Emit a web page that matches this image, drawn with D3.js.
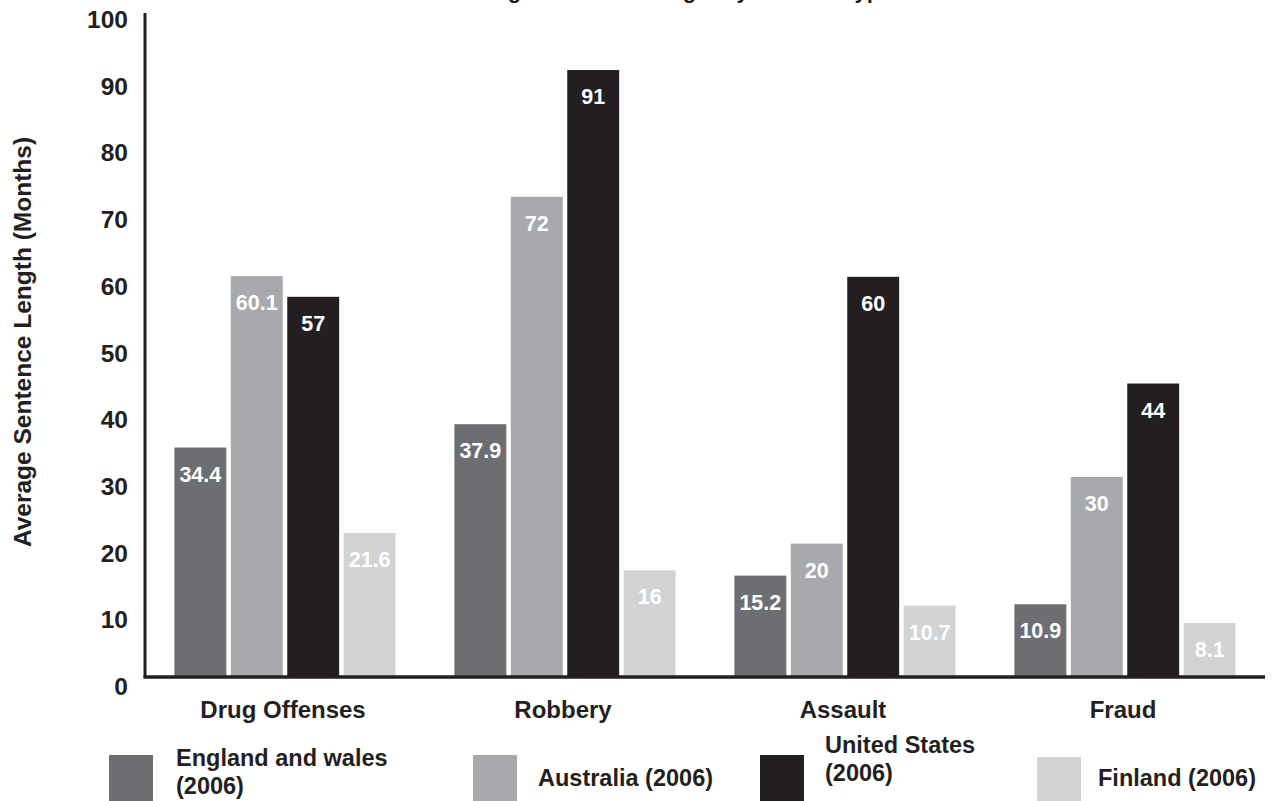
<!DOCTYPE html>
<html>
<head>
<meta charset="utf-8">
<script src="https://cdn.jsdelivr.net/npm/d3@7"></script>
<style>
  html, body { margin: 0; padding: 0; background: #ffffff; }
  svg { display: block; }
  text { font-family: "Liberation Sans", Arial, Helvetica, sans-serif; font-weight: bold; fill: #231f20; }
</style>
</head>
<body>
<svg id="chart" width="1279" height="801"></svg>
<script>
// ---- Data ----
const categories = ["Drug Offenses", "Robbery", "Assault", "Fraud"];
const seriesNames = ["England and wales (2006)", "Australia (2006)", "United States (2006)", "Finland (2006)"];
const englandWales = [34.4, 37.9, 15.2, 10.9];
const australia = [60.1, 72, 20, 30];
const unitedStates = [57, 91, 60, 44];
const finland = [21.6, 16, 10.7, 8.1];
const yTicks = [0, 10, 20, 30, 40, 50, 60, 70, 80, 90, 100];
const legendLines = [["England and wales", "(2006)"], ["Australia (2006)"], ["United States", "(2006)"], ["Finland (2006)"]];
const titleText = "Average Sentence Length by Offense Type";
const yTitle = "Average Sentence Length (Months)";

const seriesValues = [englandWales, australia, unitedStates, finland];
const colors = ["#6d6e71", "#a7a9ac", "#231f20", "#d1d3d4"];

// ---- Layout ----
const svg = d3.select("#chart");
const x0 = d3.scaleBand().domain(categories).range([145, 1265]).paddingInner(0.21).paddingOuter(0.105);
const x1 = d3.scaleBand().domain(d3.range(seriesNames.length)).range([0, x0.bandwidth()]).paddingInner(0.08).paddingOuter(0);
const y = d3.scaleLinear().domain([0, 100]).range([677, 10]);

// Title (cut off at the top in the reference)
svg.append("text").attr("x", 670).attr("y", -2).attr("text-anchor", "middle")
  .style("font-size", "22px").text(titleText);

// Bars
const groups = svg.append("g").selectAll("g").data(categories).join("g")
  .attr("transform", d => `translate(${x0(d)},0)`);

groups.each(function(cat, ci) {
  const g = d3.select(this);
  const rows = seriesValues.map((vals, si) => ({ si, v: vals[ci] }));
  g.selectAll("rect").data(rows).join("rect")
    .attr("x", d => x1(d.si))
    .attr("width", x1.bandwidth())
    .attr("y", d => y(d.v))
    .attr("height", d => y(0) - y(d.v))
    .attr("fill", d => colors[d.si]);
  g.selectAll("text.val").data(rows).join("text")
    .attr("class", "val")
    .attr("x", d => x1(d.si) + x1.bandwidth() / 2)
    .attr("y", d => y(d.v) + 34)
    .attr("text-anchor", "middle")
    .style("font-size", "21.5px")
    .style("fill", "#ffffff")
    .text(d => d.v);
});

// Axes lines
svg.append("line").attr("x1", 145).attr("x2", 145).attr("y1", 13).attr("y2", 678)
  .attr("stroke", "#231f20").attr("stroke-width", 3);
svg.append("line").attr("x1", 143.5).attr("x2", 1265).attr("y1", y(0)).attr("y2", y(0))
  .attr("stroke", "#231f20").attr("stroke-width", 3.5);

// Y tick labels
svg.append("g").selectAll("text").data(yTicks).join("text")
  .attr("x", 128).attr("y", d => y(d) + 18)
  .attr("text-anchor", "end")
  .style("font-size", "24.5px")
  .text(d => d);

// Category labels
svg.append("g").selectAll("text").data(categories).join("text")
  .attr("x", d => x0(d) + x0.bandwidth() / 2 - 2)
  .attr("y", 718)
  .attr("text-anchor", "middle")
  .style("font-size", "24px")
  .text(d => d);

// Y axis title
svg.append("text")
  .attr("transform", "translate(31,342) rotate(-90)")
  .attr("text-anchor", "middle")
  .style("font-size", "24.5px")
  .text(yTitle);

// Legend
const legendSwatchX = [109, 473, 760, 1037];
const legendTextX = [176, 538, 825, 1098];
const legendTop = [755, 755, 755, 757];
const legend = svg.append("g");
seriesNames.forEach((name, i) => {
  legend.append("rect").attr("x", legendSwatchX[i]).attr("y", legendTop[i])
    .attr("width", 44).attr("height", 46).attr("fill", colors[i]);
  const lines = legendLines[i];
  const t = legend.append("text").attr("x", legendTextX[i]).style("font-size", "23.5px");
  if (lines.length === 1) {
    t.attr("y", 786).text(lines[0]);
  } else {
    const base = i === 2 ? 753 : 766;
    lines.forEach((ln, li) => {
      t.append("tspan").attr("x", legendTextX[i]).attr("y", base + li * 28).text(ln);
    });
  }
});
</script>
</body>
</html>
